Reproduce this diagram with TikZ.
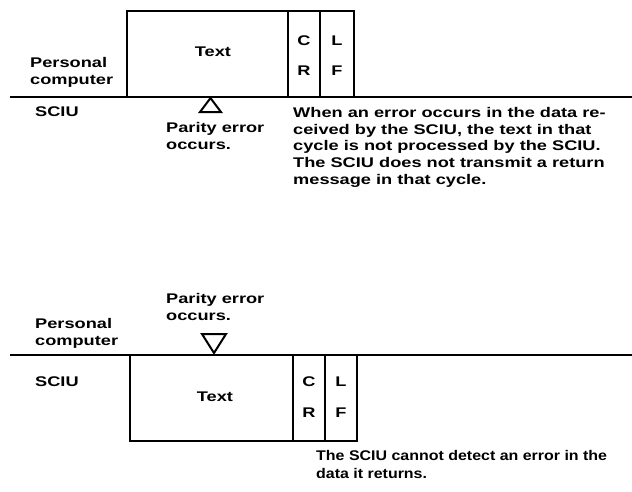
\documentclass[tikz,border=0pt]{standalone}
\usepackage{fontspec}
\setmainfont{Liberation Sans}[FakeStretch=1.3]
\newfontfamily\narrowsans{Liberation Sans}[FakeStretch=1.14]
\begin{document}
\begin{tikzpicture}[x=1pt,y=1pt,
  lbl/.style={font=\bfseries\fontsize{14}{16.8}\selectfont, inner sep=0pt},
  para/.style={lbl, align=left, anchor=north west},
  ln/.style={line width=2.2pt},
  bx/.style={line width=1.8pt},
  tri/.style={line width=2pt, line join=miter}]
\useasboundingbox (0,0) rectangle (632,-491);

% ---------- top diagram ----------
\coordinate (tl) at (10,-97);
\coordinate (tr) at (632,-97);
\draw[ln] (tl) -- (tr);
\draw[bx] (127,-97) rectangle (288,-11);
\draw[bx] (288,-97) rectangle (320,-11);
\draw[bx] (320,-97) rectangle (354,-11);
\node[lbl] (ttext) at (213,-52) {Text};
\node[lbl] (tc) at (304,-41) {C};
\node[lbl] (tR) at (304,-71) {R};
\node[lbl] (tL) at (337,-41) {L};
\node[lbl] (tF) at (337,-71) {F};
\node[para] (tpc) at (30,-57) {Personal\\computer};
\node[lbl, anchor=west] (tsciu) at (35,-112) {SCIU};
\draw[tri] (200,-112) -- (221,-112) -- (210.5,-98) -- cycle;
\node[para] (tpe) at (166,-122) {Parity error\\occurs.};
\node[para] (tpara) at (293,-107) {When an error occurs in the data re-\\ceived by the SCIU, the text in that\\cycle is not processed by the SCIU.\\The SCIU does not transmit a return\\message in that cycle.};

% ---------- bottom diagram ----------
\coordinate (bl) at (10,-355);
\coordinate (br) at (632,-355);
\draw[ln] (bl) -- (br);
\draw[bx] (130,-355) rectangle (293,-441);
\draw[bx] (293,-355) rectangle (325,-441);
\draw[bx] (325,-355) rectangle (357,-441);
\node[lbl] (btext) at (215,-397) {Text};
\node[lbl] (bc) at (309,-382) {C};
\node[lbl] (bR) at (309,-413) {R};
\node[lbl] (bL) at (341,-382) {L};
\node[lbl] (bF) at (341,-413) {F};
\node[para] (bpc) at (35,-318) {Personal\\computer};
\node[lbl, anchor=west] (bsciu) at (35,-382) {SCIU};
\draw[tri] (202,-334) -- (226,-334) -- (214,-353) -- cycle;
\node[para] (bpe) at (166,-293) {Parity error\\occurs.};
\node[para, font=\narrowsans\bfseries\fontsize{14}{18}\selectfont] (bpara) at (316,-450) {The SCIU cannot detect an error in the\\data it returns.};
\end{tikzpicture}
\end{document}
